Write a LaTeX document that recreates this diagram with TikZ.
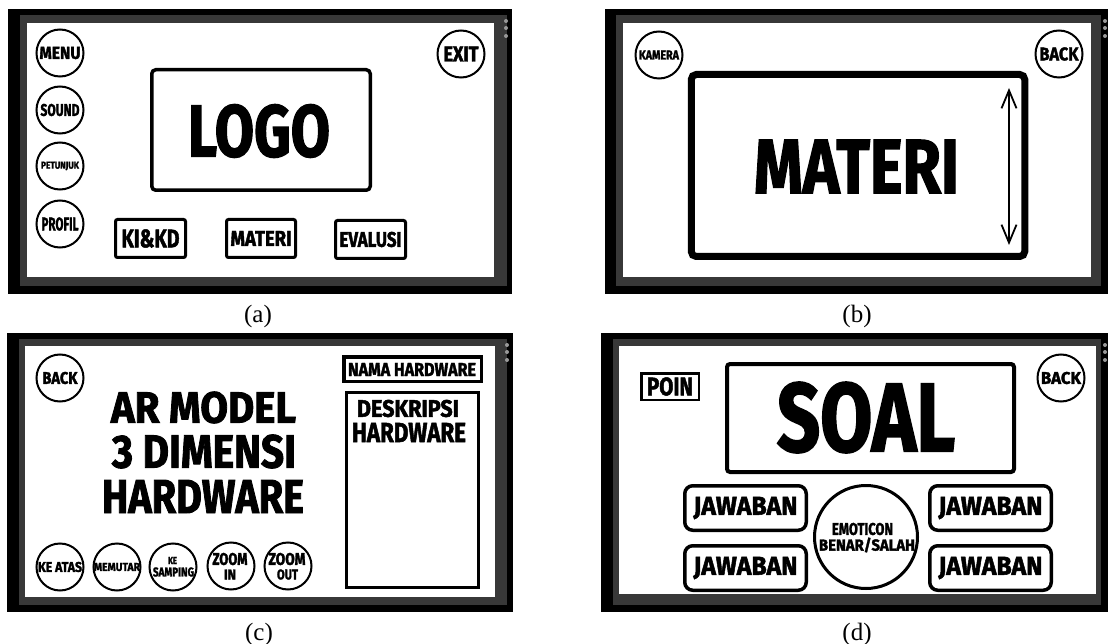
\documentclass[tikz,border=0pt]{standalone}
\usepackage{fontspec}
\usepackage{graphicx}
\newfontfamily\uifont{Fira Sans}[BoldFeatures={FakeBold=2}]
\newfontfamily\capfont{Liberation Serif}
\usetikzlibrary{arrows.meta}
\newcommand{\fitt}[3]{\resizebox{#1pt}{#2pt}{\uifont\bfseries #3}}
\begin{document}
\begin{tikzpicture}[x=1pt,y=-1pt,
  btn/.style={draw=black, line width=2pt, circle, minimum size=47pt, inner sep=0pt},
  sqbox/.style={draw=black, line width=3pt, rounded corners=2pt, inner sep=0pt},
  rbox/.style={draw=black, line width=3.5pt, rounded corners=8pt, inner sep=0pt},
  txt/.style={inner sep=0pt, outer sep=0pt},
  figcap/.style={inner sep=0pt, font=\capfont\fontsize{25}{27}\selectfont},
  wdot/.style={circle, fill=black!40, inner sep=0pt, minimum size=4pt},
  frameout/.style={fill=black},
  framein/.style={fill=black!78},
  screen/.style={fill=white}
]
\useasboundingbox[fill=white] (0,0) rectangle (1108,644);

% ---------- panel (a) ----------
\fill[frameout] (8,9) rectangle (512,294);
\fill[framein] (20,15) rectangle (507,286);
\fill[screen] (27,23) rectangle (494,277);
\node[wdot] (ad1) at (506,21) {};
\node[wdot] (ad2) at (506,28) {};
\node[wdot] (ad3) at (506,36) {};
\node[btn] (menu) at (60,53) {\fitt{41}{12}{MENU}};
\node[btn] (sound) at (60,110) {\fitt{39}{12}{SOUND}};
\node[btn] (petunjuk) at (60,166) {\fitt{38}{7}{PETUNJUK}};
\node[btn] (profil) at (60,224) {\fitt{37}{13}{PROFIL}};
\node[btn] (exit) at (461,54) {\fitt{35}{15}{EXIT}};
\node[draw, line width=3.5pt, rounded corners=4pt, inner sep=0pt,
      minimum width=218.5pt, minimum height=120.5pt] (logo) at (261,130) {};
\node[txt] (logot) at (259,131) {\fitt{142}{52}{LOGO}};
\node[sqbox, minimum width=70pt, minimum height=38pt] (kikd) at (150.5,238.5) {\fitt{58}{18}{KI\&KD}};
\node[sqbox, minimum width=69pt, minimum height=38pt] (materia) at (261,238.5) {\fitt{61}{15}{MATERI}};
\node[sqbox, minimum width=70pt, minimum height=38pt] (evalusi) at (370.5,239.5) {\fitt{62}{15}{EVALUSI}};
\node[figcap] (capa) at (258,316) {(a)};

% ---------- panel (b) ----------
\fill[frameout] (605,9) rectangle (1108,294);
\fill[framein] (616,15) rectangle (1101,286);
\fill[screen] (623,23) rectangle (1091,277);
\node[wdot] (bd1) at (1105,21) {};
\node[wdot] (bd2) at (1105,28) {};
\node[wdot] (bd3) at (1105,36) {};
\node[btn] (kamera) at (659,55) {\fitt{40}{9}{KAMERA}};
\node[btn] (backb) at (1059,54) {\fitt{39}{13}{BACK}};
\node[draw, line width=7pt, rounded corners=5pt, inner sep=0pt,
      minimum width=333.5pt, minimum height=182pt] (materib) at (858,165.5) {};
\node[txt] (materibt) at (856.5,166.5) {\fitt{205}{53}{MATERI}};
\coordinate (arrtop) at (1009,88);
\coordinate (arrbot) at (1009,245);
\draw[line width=1.6pt, {Straight Barb[length=18pt,width=15pt,line width=1.8pt]}-{Straight Barb[length=18pt,width=15pt,line width=1.8pt]}] (arrtop) -- (arrbot);
\node[figcap] (capb) at (857,316) {(b)};

% ---------- panel (c) ----------
\fill[frameout] (7,333) rectangle (513,612);
\fill[framein] (19,339) rectangle (507,605);
\fill[screen] (25,346) rectangle (495,597);
\node[wdot] (cd1) at (507,345) {};
\node[wdot] (cd2) at (507,352) {};
\node[wdot] (cd3) at (507,360) {};
\node[btn] (backc) at (60,378) {\fitt{35}{12}{BACK}};
\node[txt] (ar1) at (203.5,407.5) {\fitt{185}{31}{AR MODEL}};
\node[txt] (ar2) at (204,451.5) {\fitt{184}{33}{3 DIMENSI}};
\node[txt] (ar3) at (203,496.5) {\fitt{202}{33}{HARDWARE}};
\node[draw, line width=3.5pt, inner sep=0pt, minimum width=137.5pt, minimum height=24.5pt] (nama) at (412.5,369) {};
\node[txt] (namat) at (412,369.5) {\fitt{128}{13}{NAMA HARDWARE}};
\node[draw, line width=3pt, inner sep=0pt, minimum width=132pt, minimum height=195pt] (desk) at (412.5,490) {};
\node[txt] (desk1) at (408,408.5) {\fitt{102}{17}{DESKRIPSI}};
\node[txt] (desk2) at (409,432.5) {\fitt{114}{19}{HARDWARE}};
\node[btn] (keatas) at (60,567) {\fitt{44}{10}{KE ATAS}};
\node[btn] (memutar) at (117,567) {\fitt{46}{8}{MEMUTAR}};
\node[btn] (kesamping) at (173,567) {};
\node[txt] (kes1) at (172.5,560.5) {\fitt{9}{7}{KE}};
\node[txt] (kes2) at (173.5,572) {\fitt{41}{9}{SAMPING}};
\node[btn] (zoomin) at (231,566) {};
\node[txt] (zi1) at (230,559) {\fitt{35}{12}{ZOOM}};
\node[txt] (zi2) at (230,574.5) {\fitt{12}{10}{IN}};
\node[btn] (zoomout) at (288,566) {};
\node[txt] (zo1) at (287,559) {\fitt{37}{12}{ZOOM}};
\node[txt] (zo2) at (287.5,574.5) {\fitt{21}{10}{OUT}};
\node[figcap] (capc) at (259,634) {(c)};

% ---------- panel (d) ----------
\fill[frameout] (601,333) rectangle (1108,612);
\fill[framein] (613,339) rectangle (1101,605);
\fill[screen] (619,346) rectangle (1096,594);
\node[wdot] (dd1) at (1105,345) {};
\node[wdot] (dd2) at (1105,352) {};
\node[wdot] (dd3) at (1105,360) {};
\node[draw, line width=2.5pt, inner sep=0pt, minimum width=57.5pt, minimum height=26.5pt] (poin) at (670,386.5) {\fitt{46}{18}{POIN}};
\node[draw, line width=4pt, rounded corners=3pt, inner sep=0pt, minimum width=287pt, minimum height=108pt] (soal) at (870.5,418) {};
\node[txt] (soalt) at (866,417.5) {\fitt{178}{69}{SOAL}};
\node[btn] (backd) at (1061,378) {\fitt{40}{12}{BACK}};
\node[rbox, minimum width=121.5pt, minimum height=44.5pt] (jw1) at (745.5,508) {\fitt{104}{18}{JAWABAN}};
\node[rbox, minimum width=121.5pt, minimum height=44.5pt] (jw2) at (745.5,568) {\fitt{104}{18}{JAWABAN}};
\node[rbox, minimum width=121.5pt, minimum height=44.5pt] (jw3) at (990.5,508) {\fitt{104}{18}{JAWABAN}};
\node[rbox, minimum width=121.5pt, minimum height=44.5pt] (jw4) at (990.5,568) {\fitt{104}{18}{JAWABAN}};
\node[draw, circle, line width=3pt, inner sep=0pt, minimum size=103pt] (emo) at (866,537) {};
\node[txt] (emo1) at (862.5,529) {\fitt{61}{12}{EMOTICON}};
\node[txt] (emo2) at (867,545) {\fitt{96}{13}{BENAR/SALAH}};
\node[figcap] (capd) at (857,634) {(d)};
\end{tikzpicture}
\end{document}
